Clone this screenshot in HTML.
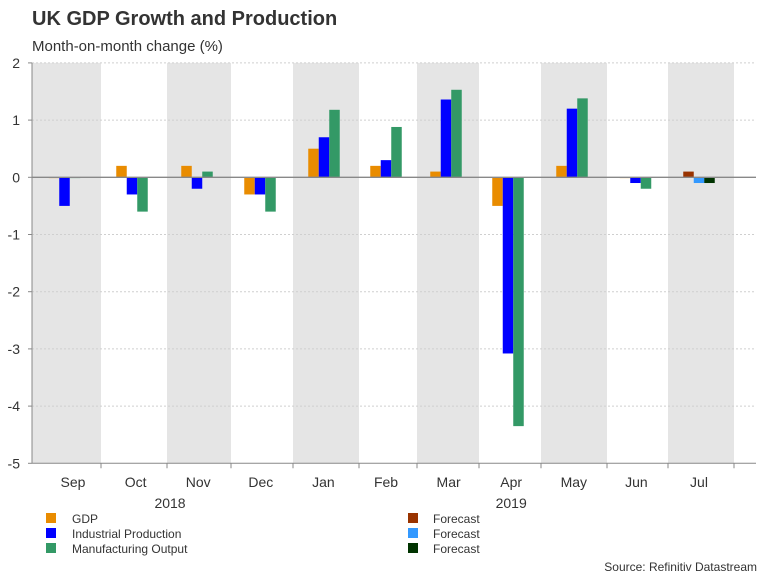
<!DOCTYPE html>
<html><head><meta charset="utf-8"><style>
body{margin:0;background:#fff;font-family:"Liberation Sans",Arial,sans-serif;}
svg text{font-family:"Liberation Sans",Arial,sans-serif;}
</style></head><body>
<svg id="c" width="768" height="576" xmlns="http://www.w3.org/2000/svg">
<text x="32" y="25" font-size="20" font-weight="bold" fill="#333">UK GDP Growth and Production</text>
<text x="32" y="51" font-size="15" fill="#333">Month-on-month change (%)</text>
<g id="bands"></g><g id="grid"></g><g id="bars"></g><g id="axes"></g>
<g>
<rect x="46" y="513" width="10" height="10" fill="#e98c00"/>
<text x="72" y="523" font-size="12" fill="#333">GDP</text>
<rect x="46" y="528" width="10" height="10" fill="#0000ff"/>
<text x="72" y="538" font-size="12" fill="#333">Industrial Production</text>
<rect x="46" y="543" width="10" height="10" fill="#339966"/>
<text x="72" y="553" font-size="12" fill="#333">Manufacturing Output</text>
<rect x="408" y="513" width="10" height="10" fill="#993300"/>
<text x="433" y="523" font-size="12" fill="#333">Forecast</text>
<rect x="408" y="528" width="10" height="10" fill="#3399ff"/>
<text x="433" y="538" font-size="12" fill="#333">Forecast</text>
<rect x="408" y="543" width="10" height="10" fill="#003300"/>
<text x="433" y="553" font-size="12" fill="#333">Forecast</text>
</g>
<text x="757" y="571" font-size="12" fill="#333" text-anchor="end">Source: Refinitiv Datastream</text>
</svg>
<script>
const categories=["Sep","Oct","Nov","Dec","Jan","Feb","Mar","Apr","May","Jun","Jul"];
const gdp=[0.0,0.2,0.2,-0.3,0.5,0.2,0.1,-0.5,0.2,0.0,null];
const ip=[-0.5,-0.3,-0.2,-0.3,0.7,0.3,1.36,-3.08,1.2,-0.1,null];
const mo=[0.0,-0.6,0.1,-0.6,1.18,0.88,1.53,-4.35,1.38,-0.2,null];
const gdpF=[null,null,null,null,null,null,null,null,null,null,0.1];
const ipF=[null,null,null,null,null,null,null,null,null,null,-0.1];
const moF=[null,null,null,null,null,null,null,null,null,null,-0.1];
const yTicks=[2,1,0,-1,-2,-3,-4,-5];
const years=[{label:"2018",at:1.55},{label:"2019",at:7}];
const edges=[32,101,167,231,293,359,417,479,541,607,668,734];
const NS="http://www.w3.org/2000/svg";
const y=v=>177.3-v*57.2;
const lx=i=>73+i*62.6;
function mk(p,t,a){const e=document.createElementNS(NS,t);for(const k in a)e.setAttribute(k,a[k]);p.appendChild(e);return e;}
const bands=document.getElementById('bands'),grid=document.getElementById('grid'),bars=document.getElementById('bars'),axes=document.getElementById('axes');
categories.forEach((c,i)=>{if(i%2===0){const r=mk(bands,'rect',{x:edges[i],y:y(2),width:edges[i+1]-edges[i],height:y(-5)-y(2),fill:'#e5e5e5'});

}});
yTicks.forEach(t=>{if(t!==0&&t!==-5){const l=mk(grid,'line',{x1:32,x2:756,y1:y(t),y2:y(t),stroke:'#cfcfcf','stroke-dasharray':'2,2'});

}
const tx=mk(axes,'text',{x:20,y:y(t)+5,'font-size':14,fill:'#333','text-anchor':'end'});tx.textContent=t;


const tk=mk(axes,'line',{x1:28,x2:32,y1:y(t),y2:y(t),stroke:'#888'});

});
const series=[[gdp,'#e98c00','gdp',0],[ip,'#0000ff','ip',1],[mo,'#339966','mo',2],[gdpF,'#993300','gdp-forecast',0],[ipF,'#3399ff','ip-forecast',1],[moF,'#003300','mo-forecast',2]];
const bw=10.5;
series.forEach(([arr,col,nm,k])=>{arr.forEach((v,i)=>{if(v===null)return;
const cx=(edges[i]+edges[i+1])/2-2;const x=cx-1.5*bw+k*bw;
const y0=Math.min(y(0),y(v)),h=Math.max(Math.abs(y(v)-y(0)),0.8);
const r=mk(bars,'rect',{x:x,y:y0,width:bw,height:h,fill:col});

});});
const z=mk(axes,'line',{x1:32,x2:756,y1:y(0),y2:y(0),stroke:'#888','stroke-width':1.3});


const ya=mk(axes,'line',{x1:32,x2:32,y1:y(2),y2:y(-5),stroke:'#888'});


const xa=mk(axes,'line',{x1:32,x2:756,y1:y(-5),y2:y(-5),stroke:'#888'});


edges.slice(1).forEach(e=>{const t=mk(axes,'line',{x1:e,x2:e,y1:y(-5),y2:y(-5)+5,stroke:'#888'});

});
categories.forEach((c,i)=>{const t=mk(axes,'text',{x:lx(i),y:487,'font-size':14,fill:'#333','text-anchor':'middle'});t.textContent=c;

});
years.forEach(o=>{const t=mk(axes,'text',{x:lx(o.at),y:508,'font-size':14,fill:'#333','text-anchor':'middle'});t.textContent=o.label;

});
</script>
</body></html>
